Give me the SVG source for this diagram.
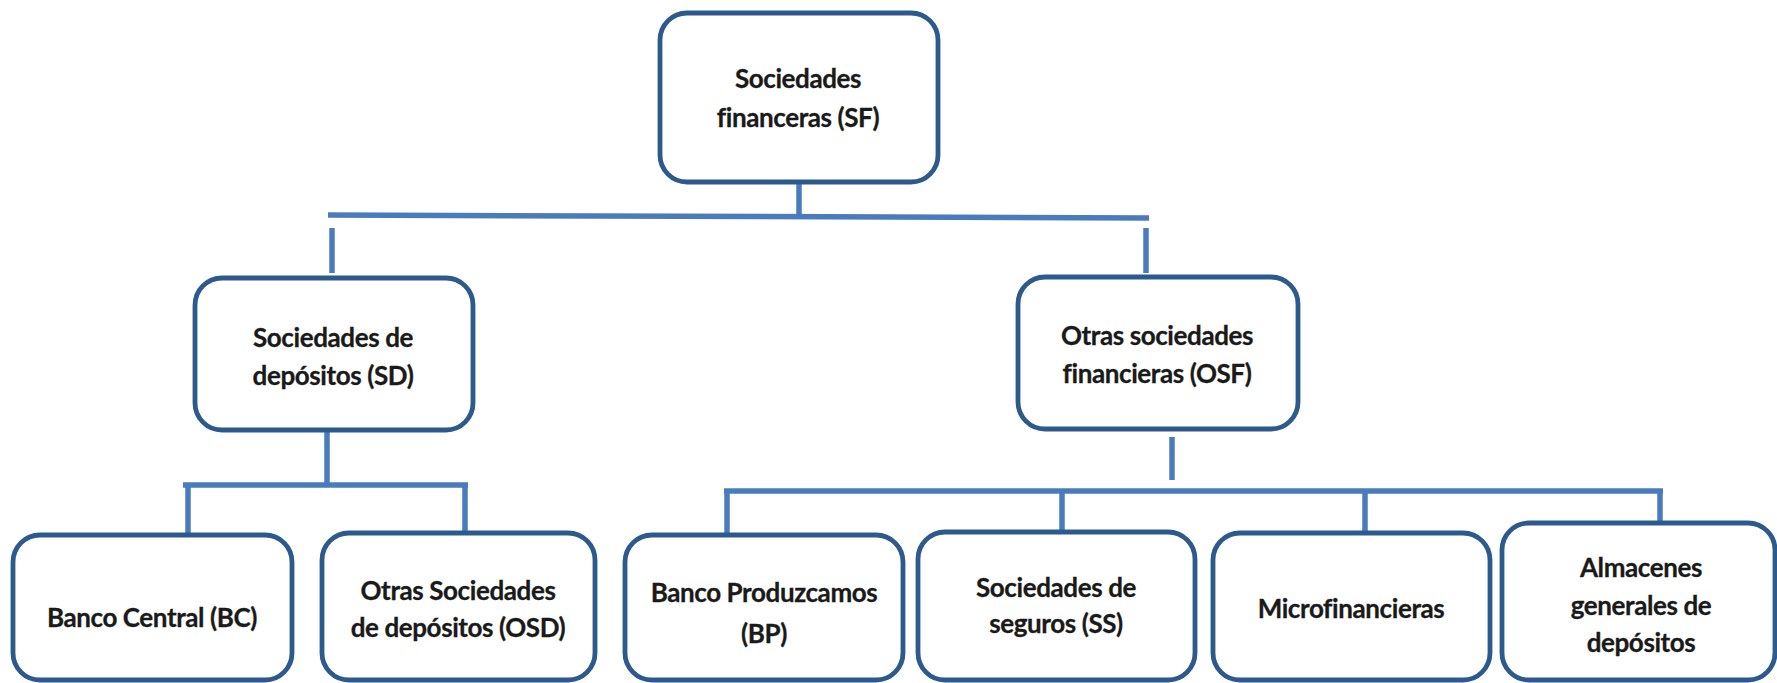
<svg xmlns="http://www.w3.org/2000/svg" width="1777" height="683" viewBox="0 0 1777 683">
<style>
.box{fill:#ffffff;stroke:#2d5a8c;stroke-width:4.8}
.con{stroke:#4a7cbd;stroke-width:5.5;fill:none;stroke-linecap:butt}
.t{font-family:Lato,"Liberation Sans",sans-serif;font-weight:700;font-size:26px;letter-spacing:-0.4px;fill:#1a1a1a;stroke:#1a1a1a;stroke-width:0.3px;text-anchor:middle}
</style>
<rect width="1777" height="683" fill="#ffffff"/>
<g id="connectors">
<line class="con" x1="799" y1="182" x2="799" y2="216"/>
<line class="con" x1="328" y1="215" x2="1149" y2="218"/>
<line class="con" x1="332" y1="228" x2="332" y2="273"/>
<line class="con" x1="1146" y1="228" x2="1146" y2="273"/>
<line class="con" x1="327" y1="430" x2="327" y2="487"/>
<line class="con" x1="183" y1="485" x2="468" y2="485"/>
<line class="con" x1="188" y1="485" x2="188" y2="535"/>
<line class="con" x1="465" y1="485" x2="465" y2="533"/>
<line class="con" x1="1172" y1="437" x2="1172" y2="480"/>
<line class="con" x1="724" y1="491" x2="1663" y2="491"/>
<line class="con" x1="727" y1="491" x2="727" y2="535"/>
<line class="con" x1="1062" y1="491" x2="1062" y2="532"/>
<line class="con" x1="1365" y1="491" x2="1365" y2="533"/>
<line class="con" x1="1660" y1="491" x2="1660" y2="530"/>
</g>
<g id="sf">
<rect class="box" x="660" y="13" width="278" height="169" rx="27"/>
<text class="t" x="798" y="88">Sociedades</text>
<text class="t" x="798" y="127">financeras (SF)</text>
</g>
<g id="sd">
<rect class="box" x="195" y="278" width="278" height="152" rx="27"/>
<text class="t" x="333" y="347">Sociedades de</text>
<text class="t" x="333" y="385">depósitos (SD)</text>
</g>
<g id="osf">
<rect class="box" x="1018" y="277" width="280" height="152" rx="27"/>
<text class="t" x="1157" y="345">Otras sociedades</text>
<text class="t" x="1157" y="383">financieras (OSF)</text>
</g>
<g id="bc">
<rect class="box" x="13" y="535" width="279" height="145" rx="27"/>
<text class="t" x="152" y="627">Banco Central (BC)</text>
</g>
<g id="osd">
<rect class="box" x="322" y="533" width="273" height="147" rx="27"/>
<text class="t" x="458" y="600">Otras Sociedades</text>
<text class="t" x="458" y="637">de depósitos (OSD)</text>
</g>
<g id="bp">
<rect class="box" x="625" y="535" width="278" height="145" rx="27"/>
<text class="t" x="764" y="602">Banco Produzcamos</text>
<text class="t" x="764" y="643">(BP)</text>
</g>
<g id="ss">
<rect class="box" x="918" y="532" width="277" height="148" rx="27"/>
<text class="t" x="1056" y="597">Sociedades de</text>
<text class="t" x="1056" y="633">seguros (SS)</text>
</g>
<g id="micro">
<rect class="box" x="1213" y="533" width="277" height="147" rx="27"/>
<text class="t" x="1351" y="618">Microfinancieras</text>
</g>
<g id="alm">
<rect class="box" x="1502" y="523" width="273" height="157" rx="27"/>
<text class="t" x="1641" y="577">Almacenes</text>
<text class="t" x="1641" y="615">generales de</text>
<text class="t" x="1641" y="652">depósitos</text>
</g>
</svg>
